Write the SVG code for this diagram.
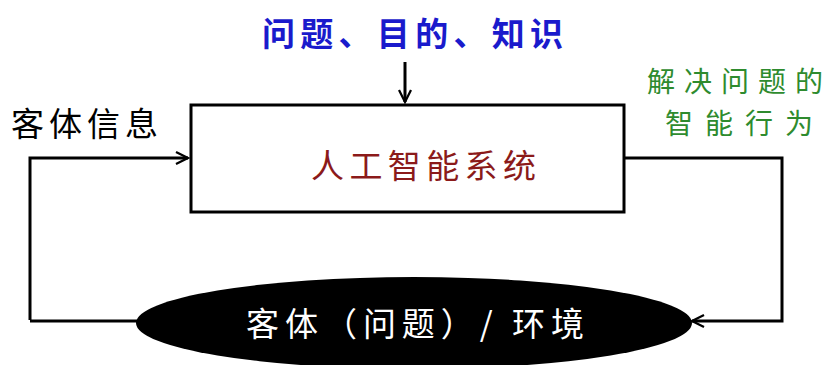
<svg xmlns="http://www.w3.org/2000/svg" width="834" height="365" viewBox="0 0 834 365">
<style>
text{font-family:"Noto Sans CJK SC","Noto Sans",sans-serif;font-size:33px;}
.ln{fill:none;stroke:#000;stroke-width:3;}
.g{fill:#2e8b2e;font-size:28px;}
</style>
<defs>
<marker id="ah" viewBox="0 0 10 10" refX="9" refY="5" markerWidth="5" markerHeight="5" orient="auto" markerUnits="strokeWidth">
<path d="M1,1 L9,5 L1,9" fill="none" stroke="#000" stroke-width="1.5"/>
</marker>
</defs>
<rect width="834" height="365" fill="#fff"/>
<g id="labels">
<text x="262" y="46" fill="#1a1acc" font-weight="bold" font-size="40" textLength="301" lengthAdjust="spacing">问题、目的、知识</text>
<text x="11" y="136" fill="#000" font-size="34" textLength="147" lengthAdjust="spacing">客体信息</text>
<text class="g" x="647" y="92" textLength="176" lengthAdjust="spacing">解决问题的</text>
<text class="g" x="665" y="134" textLength="148" lengthAdjust="spacing">智能行为</text>
</g>
<g id="system">
<rect x="191" y="105" width="433" height="107" fill="#fff" stroke="#000" stroke-width="3"/>
<text x="311" y="178" fill="#8b1a1a" font-size="32" textLength="225" lengthAdjust="spacing">人工智能系统</text>
</g>
<g id="connectors">
<path class="ln" d="M405,62 V102" marker-end="url(#ah)"/>
<path class="ln" d="M30,320 V158 H188" marker-end="url(#ah)"/>
<path class="ln" d="M30,321 H140"/>
<path class="ln" d="M624,158 H782 V321 H692" marker-end="url(#ah)"/>
</g>
<g id="environment">
<ellipse cx="414" cy="323" rx="278" ry="46" fill="#000"/>
<text x="246" y="336" fill="#fff" font-size="36" textLength="338" lengthAdjust="spacing">客体（问题）/ 环境</text>
</g>
</svg>
